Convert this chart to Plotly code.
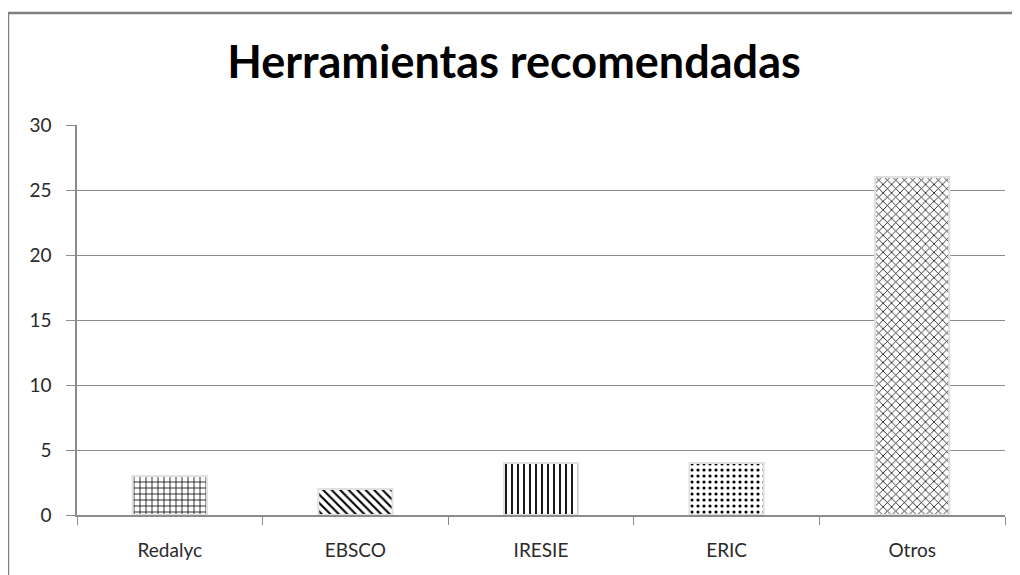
import plotly.graph_objects as go

categorias = ["Redalyc", "EBSCO", "IRESIE", "ERIC", "Otros"]
valores = [3, 2, 4, 4, 26]
patrones = ["+", "\\", "|", ".", "x"]
densidad = [0.25, 0.35, 0.3, 0.22, 0.24]

fig = go.Figure()
fig.add_trace(go.Bar(
    x=categorias,
    y=valores,
    width=0.4,
    marker=dict(
        color="white",
        line=dict(color="#e0e0e0", width=2),
        pattern=dict(shape=patrones, fgcolor="black", bgcolor="white",
                     fgopacity=1, size=6, solidity=densidad),
    ),
))

grid = "#8c8c8c"
fig.update_layout(
    width=1012, height=567,
    margin=dict(l=69, r=15, t=117, b=60),
    paper_bgcolor="white", plot_bgcolor="white",
    showlegend=False,
    title=dict(text="<b>Herramientas recomendadas</b>", x=0.5, xanchor="center",
               y=0.905, yanchor="middle",
               font=dict(family="Lato", size=45, color="black")),
    font=dict(family="Lato", size=19, color="#2a2a2a"),
)
fig.update_xaxes(showline=True, linecolor=grid, linewidth=1.5,
                 ticks="outside", tickson="boundaries", ticklen=8,
                 tickcolor=grid, showgrid=False, automargin=False,
                 ticklabelstandoff=17)
fig.update_yaxes(range=[0, 30], dtick=5, showline=True, linecolor=grid, linewidth=1.5,
                 ticks="outside", ticklen=9, tickcolor=grid, automargin=False,
                 ticklabelstandoff=11,
                 showgrid=True, gridcolor=grid, gridwidth=1.2, zeroline=False)

# marco del gráfico (borde gris arriba y a la izquierda)
fig.add_shape(type="rect", xref="paper", yref="paper",
              x0=-0.0744, x1=1.03, y0=-0.2, y1=1.287,
              line=dict(color="#7f7f7f", width=2.5), layer="below")

fig.write_html("out.html")
